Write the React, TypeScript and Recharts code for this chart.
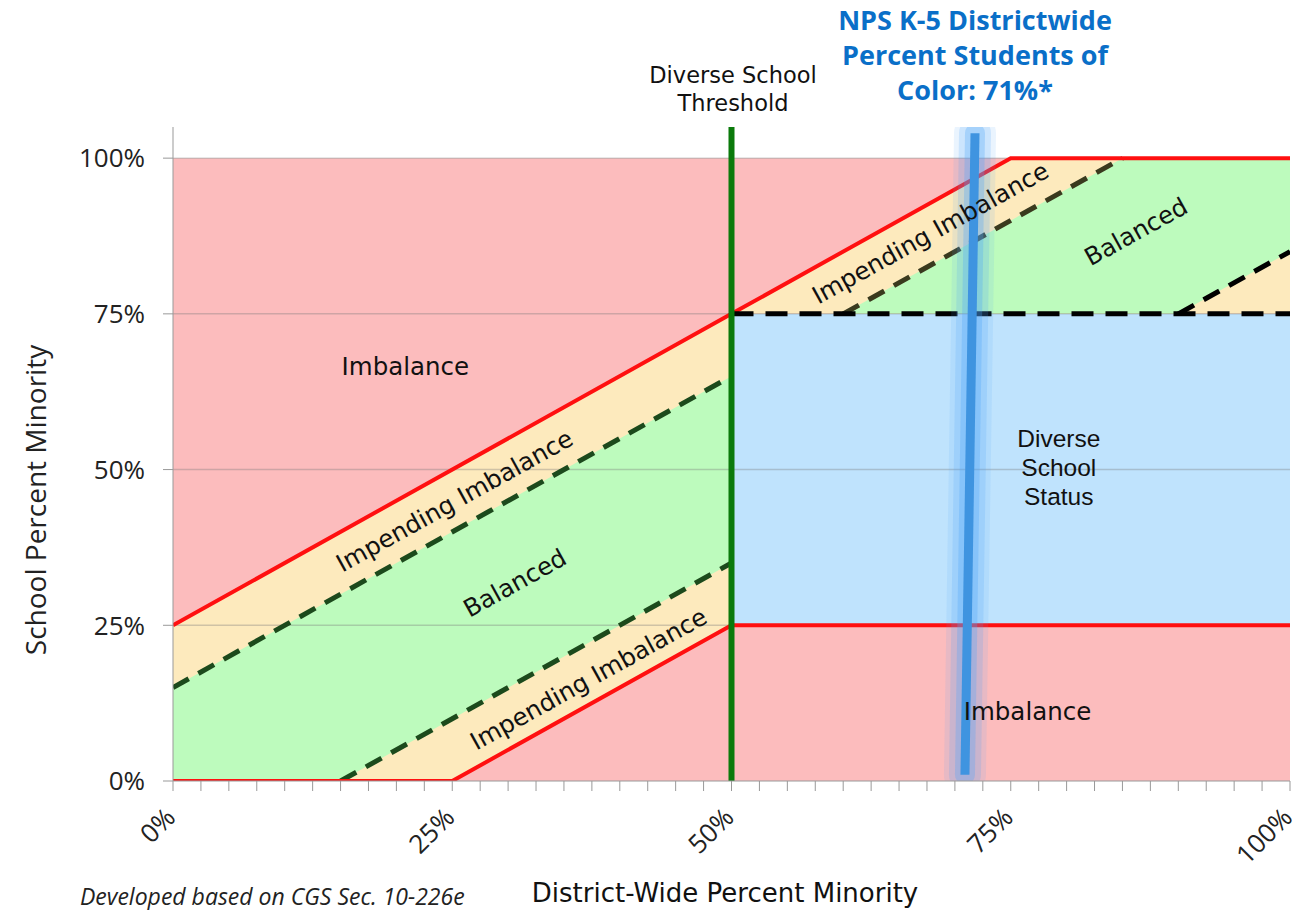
import React from 'react';
import { ComposedChart, Area, Line, Scatter, XAxis, YAxis } from 'recharts';

// axis ticks (minor ticks every 2.5%, labels every 25%)
const xTicks = [
  0, 2.5, 5, 7.5, 10, 12.5, 15, 17.5, 20, 22.5, 25, 27.5, 30, 32.5, 35, 37.5, 40, 42.5, 45, 47.5, 50,
  52.5, 55, 57.5, 60, 62.5, 65, 67.5, 70, 72.5, 75, 77.5, 80, 82.5, 85, 87.5, 90, 92.5, 95, 97.5, 100,
];
const xLabelTicks = [0, 25, 50, 75, 100];
const yTicks = [0, 25, 50, 75, 100];
const gridRows = [25, 50, 75, 100];

// filled zones, [low, high] school percent at each district percent
const imbalanceZone = [
  { x: 0, band: [0, 100] },
  { x: 100, band: [0, 100] },
];
const impendingLeft = [
  { x: 0, band: [0, 25] },
  { x: 15, band: [0, 40] },
  { x: 25, band: [0, 50] },
  { x: 50, band: [25, 75] },
];
const balancedLeft = [
  { x: 0, band: [0, 15] },
  { x: 15, band: [0, 30] },
  { x: 25, band: [10, 40] },
  { x: 50, band: [35, 65] },
];
const diverseZone = [
  { x: 50, band: [25, 75] },
  { x: 100, band: [25, 75] },
];
const impendingRight = [
  { x: 50, band: [75, 75] },
  { x: 75, band: [75, 100] },
  { x: 100, band: [75, 100] },
];
const balancedRight = [
  { x: 60, band: [75, 75] },
  { x: 85, band: [75, 100] },
  { x: 90, band: [75, 100] },
  { x: 100, band: [85, 100] },
];

// boundary lines
const upperLimit = [
  { x: 0, y: 25 },
  { x: 50, y: 75 },
  { x: 75, y: 100 },
  { x: 100, y: 100 },
];
const lowerLimit = [
  { x: 0, y: 0 },
  { x: 25, y: 0 },
  { x: 50, y: 25 },
  { x: 100, y: 25 },
];
const upperWarnLeft = [
  { x: 0, y: 15 },
  { x: 50, y: 65 },
];
const lowerWarnLeft = [
  { x: 15, y: 0 },
  { x: 50, y: 35 },
];
const upperWarnRight = [
  { x: 60, y: 75 },
  { x: 85, y: 100 },
];
const diverseTop = [
  { x: 50, y: 75 },
  { x: 100, y: 75 },
];
const lowerWarnRight = [
  { x: 90, y: 75 },
  { x: 100, y: 85 },
];
const thresholdLine = [
  { x: 50, y: 0 },
  { x: 50, y: 105 },
];
const districtLine = [
  { x: 70.9, y: 1 },
  { x: 71.8, y: 104 },
];

const regionLabels = [
  { x: 20.8, y: 66.6, text: 'Imbalance', kind: 'flat' },
  { x: 25.2, y: 45.0, text: 'Impending Imbalance', kind: 'slope' },
  { x: 30.6, y: 31.8, text: 'Balanced', kind: 'slope' },
  { x: 37.2, y: 16.4, text: 'Impending Imbalance', kind: 'slope' },
  { x: 67.8, y: 88.0, text: 'Impending Imbalance', kind: 'slope' },
  { x: 86.2, y: 88.2, text: 'Balanced', kind: 'slope' },
  { x: 79.3, y: 50.3, text: 'Diverse|School|Status', kind: 'stack' },
  { x: 76.5, y: 11.2, text: 'Imbalance', kind: 'flat' },
];

const RegionLabel = (props: any) => {
  const { cx, cy, payload } = props;
  if (payload.kind === 'stack') {
    const lines = payload.text.split('|');
    return (
      <text x={cx} y={cy} textAnchor='middle' fontFamily='"Liberation Sans", Arial, sans-serif' fontSize={24.5} fill='#111'>
        {lines.map((l: string, i: number) => (
          <tspan key={i} x={cx} y={cy + (i - 1) * 29} dy='0.35em'>{l}</tspan>
        ))}
      </text>
    );
  }
  const angle = payload.kind === 'slope' ? -29 : 0;
  return (
    <text
      x={cx}
      y={cy}
      dy='0.35em'
      textAnchor='middle'
      transform={`rotate(${angle} ${cx} ${cy})`}
      fontFamily='"DejaVu Sans", sans-serif'
      fontSize={24.5}
      fill='#111'
    >
      {payload.text}
    </text>
  );
};

const XTick = (props: any) => {
  const { x, y, payload } = props;
  if (!xLabelTicks.includes(payload.value)) return <g />;
  const ax = x + 4;
  const ay = y + 28;
  return (
    <text x={ax} y={ay} textAnchor='end' transform={`rotate(-45 ${ax} ${ay})`} fontFamily='"Open Sans", sans-serif' fontSize={26} fill='#222'>
      {payload.value}%
    </text>
  );
};

const line = (data: any[], stroke: string, width: number, dash?: string, key?: string, extra?: any) => (
  <Line
    key={key}
    data={data}
    dataKey='y'
    type='linear'
    stroke={stroke}
    strokeWidth={width}
    strokeDasharray={dash}
    dot={false}
    activeDot={false}
    legendType='none'
    isAnimationActive={false}
    {...extra}
  />
);

const zone = (data: any[], fill: string) => (
  <Area data={data} dataKey='band' type='linear' stroke='none' fill={fill} fillOpacity={1} activeDot={false} isAnimationActive={false} />
);

export default function App() {
  return (
    <div style={{ position: 'absolute', left: 0, top: 0, width: 1299, height: 910, background: '#fff' }}>
      <ComposedChart width={1299} height={910} margin={{ top: 127, right: 9, bottom: 0, left: 0 }}>
        <XAxis
          dataKey='x'
          type='number'
          domain={[0, 100]}
          ticks={xTicks}
          interval={0}
          height={129}
          tickSize={10}
          tickMargin={0}
          stroke='#999'
          tick={<XTick />}
          allowDataOverflow
        />
        <YAxis
          type='number'
          domain={[0, 105]}
          ticks={yTicks}
          width={173}
          tickSize={10}
          tickMargin={18}
          stroke='#999'
          tickFormatter={(t) => `${t}%`}
          tick={{ fill: '#222', fontSize: 26, fontFamily: '"Open Sans", sans-serif' }}
          allowDataOverflow
        />
        {zone(imbalanceZone, '#fcbcbd')}
        {zone(impendingLeft, '#fdeabd')}
        {zone(balancedLeft, '#bdfbbd')}
        {zone(diverseZone, '#bfe3fd')}
        {zone(impendingRight, '#fdeabd')}
        {zone(balancedRight, '#bdfbbd')}
        {gridRows.map((r) => line([{ x: 0, y: r }, { x: 100, y: r }], 'rgba(120,120,120,0.35)', 1.5, undefined, `g${r}`))}
        {line(upperWarnLeft, '#1c4a1c', 5, '18 11')}
        {line(lowerWarnLeft, '#1c4a1c', 5, '18 11')}
        {line(upperWarnRight, '#3a3a1e', 5, '18 11')}
        {line(lowerWarnRight, '#000', 5, '18 11')}
        {line(upperLimit, '#ff1010', 4)}
        {line(lowerLimit, '#ff1010', 4)}
        {line(diverseTop, '#000', 5, '22 12')}
        {line(thresholdLine, '#0b7a0b', 6)}
        <Scatter data={regionLabels} dataKey='y' shape={(p: any) => <RegionLabel {...p} />} legendType='none' isAnimationActive={false} />
        {line(districtLine, 'rgba(80,165,250,0.12)', 42, undefined, 'glow0', { strokeLinecap: 'round' })}
        {line(districtLine, 'rgba(70,160,250,0.18)', 32, undefined, 'glow1', { strokeLinecap: 'round' })}
        {line(districtLine, 'rgba(80,165,250,0.3)', 20, undefined, 'glow2', { strokeLinecap: 'round' })}
        {line(districtLine, '#3f94e0', 9, undefined, 'core')}
      </ComposedChart>

      <div style={{ position: 'absolute', left: 633, top: 61, width: 200, textAlign: 'center', fontFamily: '"DejaVu Sans", sans-serif', fontSize: 22.5, lineHeight: '28px', color: '#111', whiteSpace: 'nowrap' }}>
        Diverse School
        <br />
        Threshold
      </div>
      <div style={{ position: 'absolute', left: 775, top: 2, width: 400, textAlign: 'center', fontFamily: '"Open Sans", sans-serif', fontWeight: 700, fontSize: 27, lineHeight: '35px', color: '#0a6fc8' }}>
        NPS K-5 Districtwide
        <br />
        Percent Students of
        <br />
        Color: 71%*
      </div>
      <div style={{ position: 'absolute', left: 35, top: 500, transform: 'translate(-50%, -50%) rotate(-90deg)', whiteSpace: 'nowrap', fontFamily: '"Open Sans", sans-serif', fontSize: 28, color: '#222' }}>
        School Percent Minority
      </div>
      <div style={{ position: 'absolute', left: 725, top: 893, transform: 'translate(-50%, -50%)', whiteSpace: 'nowrap', fontFamily: '"DejaVu Sans", sans-serif', fontSize: 26, color: '#111' }}>
        District-Wide Percent Minority
      </div>
      <div style={{ position: 'absolute', left: 80, top: 884, whiteSpace: 'nowrap', fontFamily: '"Open Sans", sans-serif', fontStyle: 'italic', fontSize: 23, lineHeight: '24px', color: '#222' }}>
        Developed based on CGS Sec. 10-226e
      </div>
    </div>
  );
}
